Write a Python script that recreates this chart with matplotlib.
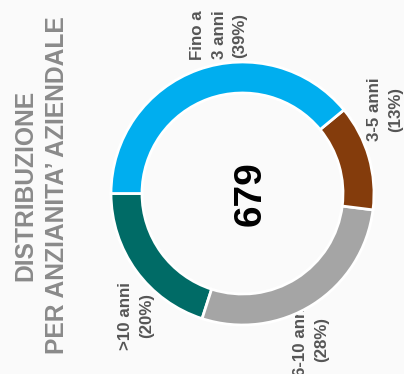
import matplotlib
matplotlib.use('Agg')
import matplotlib.pyplot as plt

plt.rcParams['font.family'] = ['Liberation Sans', 'DejaVu Sans']

# headcount by seniority, in drawing order (counter-clockwise from the left)
categories = ['>10 anni', '6-10 anni', '3-5 anni', 'Fino a\n3 anni']
counts = [136, 190, 88, 265]
colors = ['#006b66', '#a5a5a5', '#843c0c', '#00aeef']

total = sum(counts)
bg = '#fafafa'

fig = plt.figure(figsize=(4.04, 3.74), dpi=100, facecolor=bg)
ax = fig.add_axes([0, 0, 1, 1])
ax.set_facecolor(bg)

cx, cy, r = 242.5, 180.5, 131.5
wedges, _ = ax.pie(counts, colors=colors, startangle=180, counterclock=True,
                   center=(cx, cy), radius=r,
                   wedgeprops=dict(width=31, edgecolor='white', linewidth=2, zorder=2))

ax.set_xlim(0, 404)
ax.set_ylim(0, 374)
ax.set_aspect('equal')
ax.axis('off')

# slice labels sit outside the ring, rotated like the rest of the card
label_pos = [(136, 58), (311, 34), (385, 265), (219, 339)]
for name, n, (x, y) in zip(categories, counts, label_pos):
    pct = round(100 * n / total)
    ax.text(x, y, f'{name}\n({pct}%)', rotation=90, ha='center', va='center',
            multialignment='center', fontsize=12.2, fontweight='bold',
            color='#555555', linespacing=1.5, zorder=1)

ax.text(251, 180, f'{total}', rotation=90, ha='center', va='center',
        fontsize=28, fontweight='bold', color='black')

ax.text(41, 189, 'DISTRIBUZIONE\nPER ANZIANITA\u2019 AZIENDALE', rotation=90,
        ha='center', va='center', multialignment='center',
        fontsize=17.7, fontweight='bold', color='#8a8a8a', linespacing=1.4)

fig.savefig('out.png', dpi=100, facecolor=bg)
